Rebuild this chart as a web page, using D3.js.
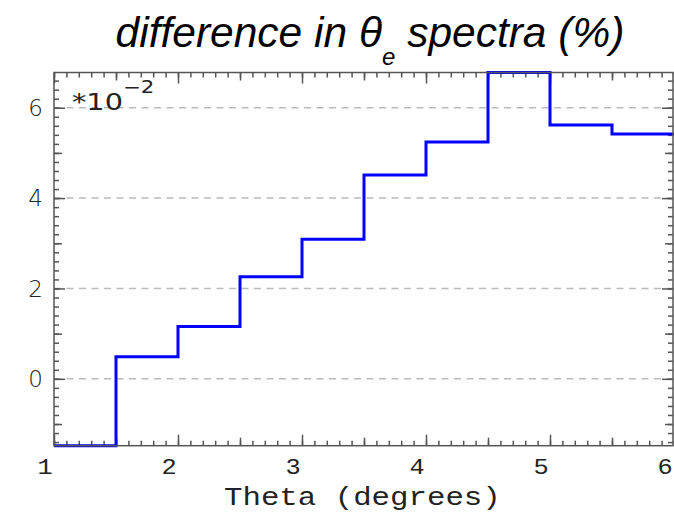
<!DOCTYPE html>
<html>
<head>
<meta charset="utf-8">
<script src="https://cdn.jsdelivr.net/npm/d3@7"></script>
<style>
  body { margin: 0; background: #fff; }
  svg { display: block; }
</style>
</head>
<body>
<svg id="chart" width="674" height="515"></svg>
<script>
// bin edges in degrees, values in units of 1e-2 percent
const binEdges = [1, 1.5, 2, 2.5, 3, 3.5, 4, 4.5, 5, 5.5, 6];
const binValues = [-1.48, 0.49, 1.16, 2.26, 3.09, 4.51, 5.24, 6.78, 5.62, 5.42];
const xTickLabels = [1, 2, 3, 4, 5, 6];
const yTickLabels = [0, 2, 4, 6];

const svg = d3.select("#chart");
const plotLeft = 54, plotRight = 673, plotTop = 72.5, plotBottom = 445.7;
const axisColor = "#555";

const x = d3.scaleLinear().domain([1, 6]).range([plotLeft, 674]);
const y = d3.scaleLinear().domain([-1.48, 6.78]).range([plotBottom, plotTop]);

// dashed horizontal grid
svg.append("g").selectAll("line")
    .data(yTickLabels)
    .join("line")
    .attr("x1", plotLeft).attr("x2", plotRight)
    .attr("y1", d => y(d)).attr("y2", d => y(d))
    .attr("stroke", "#bbb")
    .attr("stroke-width", 1.5)
    .attr("stroke-dasharray", "7,5.5");

// tick sets: minor / half / major
const xMinor = d3.range(10, 61).map(i => i / 10);
const xHalf = d3.range(1.5, 6, 1);
const yMinor = d3.range(-7, 34).map(i => i / 5);
const yHalf = [-1, 1, 3, 5];

function addTicks(axisFn, scale, vals, size, transform) {
    const g = svg.append("g")
        .attr("class", "ticks")
        .attr("transform", transform)
        .call(axisFn(scale).tickValues(vals).tickSizeInner(-size).tickSizeOuter(0).tickFormat(() => ""));
    g.select(".domain").remove();
    g.selectAll(".tick line")
        .attr("stroke", axisColor)
        .attr("stroke-width", 1.5);
}

[[xMinor, 5], [xHalf, 8], [xTickLabels, 11]].forEach(([v, s]) => {
    addTicks(d3.axisBottom, x, v, s, `translate(0,${plotBottom})`);
    addTicks(d3.axisTop, x, v, s, `translate(0,${plotTop})`);
});
[[yMinor, 5], [yHalf, 8], [yTickLabels, 11]].forEach(([v, s]) => {
    addTicks(d3.axisLeft, y, v, s, `translate(${plotLeft},0)`);
    addTicks(d3.axisRight, y, v, s, `translate(${plotRight},0)`);
});

// step line
const stepPts = binEdges.map((e, i) => [e, binValues[Math.min(i, binValues.length - 1)]]);
svg.append("path")
    .datum(stepPts)
    .attr("fill", "none")
    .attr("stroke", "#0000ff")
    .attr("stroke-width", 3)
    .attr("d", d3.line().x(d => x(d[0])).y(d => y(d[1])).curve(d3.curveStepAfter));

// frame
svg.append("rect")
    .attr("x", plotLeft).attr("y", plotTop)
    .attr("width", plotRight - plotLeft).attr("height", plotBottom - plotTop)
    .attr("fill", "none")
    .attr("stroke", axisColor)
    .attr("stroke-width", 1.5);

// x labels
svg.append("g").selectAll("text")
    .data(xTickLabels)
    .join("text")
    .attr("transform", d => `translate(${x(d) - 9},474) scale(1.15,1)`)
    .attr("text-anchor", "middle")
    .style("font-family", "'Courier New', 'Liberation Mono', monospace")
    .style("font-size", "22px")
    .style("fill", "#222")
    .text(d => d);

// y labels
svg.append("g").selectAll("text")
    .data(yTickLabels)
    .join("text")
    .attr("x", 43)
    .attr("y", d => y(d))
    .attr("dy", "0.36em")
    .attr("text-anchor", "end")
    .style("font-family", "'DejaVu Sans', sans-serif")
    .style("font-size", "23px")
    .style("font-weight", "300")
    .style("fill", "#222")
    .text(d => d);

// exponent label
const expo = svg.append("text")
    .attr("transform", "translate(72,110) scale(1.25,1)")
    .style("font-family", "'DejaVu Sans', sans-serif")
    .style("font-size", "23px")
    .style("fill", "#222");
expo.append("tspan").text("*10");
expo.append("tspan").attr("dy", -17).style("font-size", "17px").text("\u22122");

// axis title
svg.append("text")
    .attr("transform", "translate(224,505) scale(1.23,1)")
    .style("font-family", "'Courier New', 'Liberation Mono', monospace")
    .style("font-size", "25px")
    .style("fill", "#222")
    .text("Theta (degrees)");

// title
const title = svg.append("text")
    .attr("x", 370).attr("y", 47)
    .attr("text-anchor", "middle")
    .style("font-family", "Arial, 'Liberation Sans', sans-serif")
    .style("font-style", "italic")
    .style("font-size", "42.5px")
    .style("fill", "#000");
title.append("tspan").text("difference in \u03b8");
title.append("tspan").attr("dy", 18).style("font-size", "24px").text("e");
title.append("tspan").attr("dy", -18).text(" spectra (%)");
</script>
</body>
</html>
